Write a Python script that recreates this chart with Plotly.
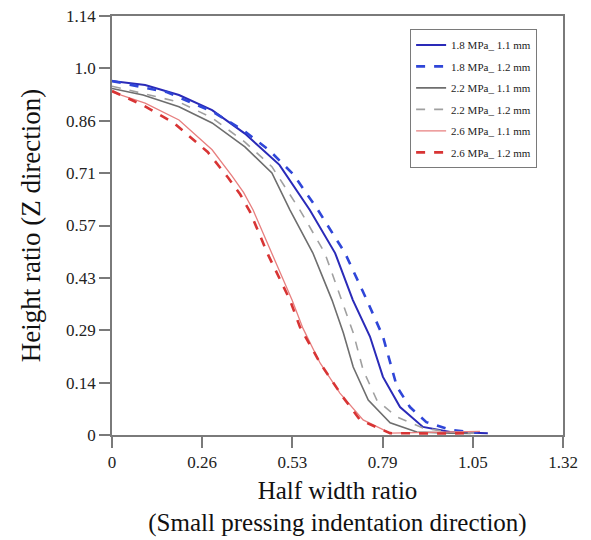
import plotly.graph_objects as go

# Data
x_18_11 = [0, 0.097, 0.196, 0.293, 0.389, 0.49, 0.579, 0.653, 0.705, 0.755, 0.793, 0.843, 0.91, 0.99, 1.10]
y_18_11 = [0.963, 0.952, 0.925, 0.884, 0.82, 0.735, 0.612, 0.495, 0.367, 0.268, 0.158, 0.076, 0.022, 0.008, 0.005]

x_18_12 = [0, 0.16, 0.296, 0.389, 0.46, 0.53, 0.603, 0.682, 0.746, 0.793, 0.834, 0.872, 0.92, 0.99, 1.07]
y_18_12 = [0.963, 0.933, 0.879, 0.826, 0.775, 0.71, 0.612, 0.495, 0.367, 0.268, 0.131, 0.076, 0.035, 0.014, 0.006]

x_22_11 = [0, 0.091, 0.196, 0.293, 0.389, 0.468, 0.521, 0.588, 0.644, 0.677, 0.706, 0.75, 0.814, 0.892, 0.99, 1.05]
y_22_11 = [0.943, 0.925, 0.893, 0.849, 0.784, 0.713, 0.612, 0.495, 0.367, 0.278, 0.185, 0.095, 0.033, 0.008, 0.005, 0.004]

x_22_12 = [0, 0.196, 0.293, 0.389, 0.468, 0.55, 0.623, 0.673, 0.706, 0.735, 0.775, 0.834, 0.91, 0.99, 1.06]
y_22_12 = [0.949, 0.906, 0.863, 0.797, 0.73, 0.612, 0.495, 0.367, 0.278, 0.177, 0.095, 0.049, 0.019, 0.008, 0.005]

x_26_11 = [0, 0.097, 0.196, 0.293, 0.351, 0.385, 0.413, 0.44, 0.468, 0.527, 0.559, 0.609, 0.667, 0.735, 0.814, 0.95, 1.077]
y_26_11 = [0.933, 0.903, 0.857, 0.776, 0.705, 0.66, 0.612, 0.555, 0.495, 0.367, 0.29, 0.196, 0.114, 0.041, 0.005, 0.008, 0.01]

x_26_12 = [0, 0.091, 0.18, 0.28, 0.34, 0.375, 0.404, 0.43, 0.457, 0.521, 0.55, 0.609, 0.676, 0.726, 0.814, 0.95, 1.05]
y_26_12 = [0.936, 0.897, 0.85, 0.77, 0.70, 0.655, 0.607, 0.55, 0.49, 0.367, 0.294, 0.196, 0.103, 0.041, 0.005, 0.004, 0.005]

x_ticks = [0, 0.264, 0.528, 0.792, 1.056, 1.32]
x_ticklabels = ["0", "0.26", "0.53", "0.79", "1.05", "1.32"]
y_ticks = [0, 0.1425, 0.285, 0.4275, 0.57, 0.7125, 0.855, 0.9975, 1.14]
y_ticklabels = ["0", "0.14", "0.29", "0.43", "0.57", "0.71", "0.86", "1.0", "1.14"]

series = [
    ("1.8 MPa_ 1.1 mm", x_18_11, y_18_11, "#2a2ab8", "solid", 2),
    ("1.8 MPa_ 1.2 mm", x_18_12, y_18_12, "#2f46d8", "dash", 2.6),
    ("2.2 MPa_ 1.1 mm", x_22_11, y_22_11, "#6e6e6e", "solid", 1.6),
    ("2.2 MPa_ 1.2 mm", x_22_12, y_22_12, "#a0a0a0", "dash", 1.6),
    ("2.6 MPa_ 1.1 mm", x_26_11, y_26_11, "#e77f7f", "solid", 1.3),
    ("2.6 MPa_ 1.2 mm", x_26_12, y_26_12, "#d83434", "dash", 2.6),
]

fig = go.Figure()
for i, (name, xs, ys, color, dash, w) in enumerate(series):
    fig.add_trace(go.Scatter(x=xs, y=ys, mode="lines", name=name, legendgroup=f"g{i}",
                             line=dict(color=color, dash=dash, width=w)))

SERIF = "Liberation Serif, Times New Roman, serif"

axis_common = dict(
    showline=True, linecolor="#7a7a7a", linewidth=1.5, mirror=True,
    ticks="outside", ticklen=11, tickcolor="#7a7a7a", tickwidth=1.5,
    showgrid=False, zeroline=False, automargin=False,
    tickfont=dict(family=SERIF, size=17, color="#222"),
)

fig.update_layout(
    width=591, height=540,
    margin=dict(l=112, r=28, t=16, b=105),
    paper_bgcolor="white", plot_bgcolor="white",
    font=dict(family=SERIF, color="#111"),
    xaxis=dict(range=[0, 1.32], tickvals=x_ticks, ticktext=x_ticklabels,
               title=dict(text="Half width ratio<br>(Small pressing indentation direction)",
                          font=dict(family=SERIF, size=25), standoff=10),
               **axis_common),
    yaxis=dict(range=[0, 1.14], tickvals=y_ticks, ticktext=y_ticklabels,
               title=dict(text="Height ratio (Z direction)",
                          font=dict(family=SERIF, size=27), standoff=18),
               **axis_common),
    legend=dict(x=0.661, y=0.968, xanchor="left", yanchor="top",
                bordercolor="#7a7a7a", borderwidth=1, bgcolor="white",
                font=dict(family=SERIF, size=11, color="#222"),
                tracegroupgap=2.5),
    showlegend=True,
)

fig.write_html("out.html")
